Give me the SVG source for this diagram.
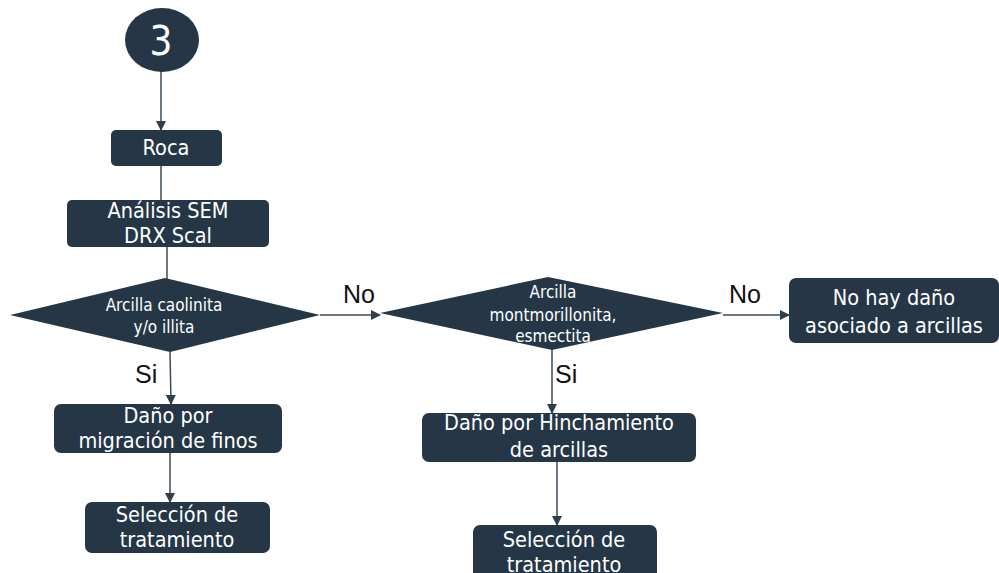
<svg xmlns="http://www.w3.org/2000/svg" width="999" height="573" viewBox="0 0 999 573">
<style>
.n{fill:#253746;}
.t{fill:#ffffff;font-family:"DejaVu Sans Condensed","DejaVu Sans",sans-serif;font-stretch:condensed;text-anchor:middle;}
.b{font-size:21.5px;}
.d{font-size:17px;}
.lbl{fill:#111111;font-family:"Liberation Sans",Arial,sans-serif;font-size:25px;}
.c{stroke:#3b4a58;stroke-width:1.5;fill:none;}
</style>
<defs>
<marker id="ah" markerWidth="10" markerHeight="10" refX="9" refY="5" orient="auto" markerUnits="userSpaceOnUse">
<path d="M0,0 L10,5 L0,10 Z" fill="#2f3e4c"/>
</marker>
</defs>
<rect width="999" height="573" fill="#ffffff"/>
<g id="connectors">
<line class="c" x1="161" y1="71" x2="161" y2="130" marker-end="url(#ah)"/>
<line class="c" x1="161" y1="166" x2="161" y2="200"/>
<line class="c" x1="167" y1="247" x2="167" y2="279"/>
<line class="c" x1="320" y1="315" x2="380" y2="315" marker-end="url(#ah)"/>
<line class="c" x1="170" y1="352" x2="171" y2="404" marker-end="url(#ah)"/>
<line class="c" x1="170" y1="452" x2="170" y2="502" marker-end="url(#ah)"/>
<line class="c" x1="723" y1="315" x2="789" y2="315" marker-end="url(#ah)"/>
<line class="c" x1="552" y1="350" x2="552" y2="413" marker-end="url(#ah)"/>
<line class="c" x1="557" y1="462" x2="557" y2="525" marker-end="url(#ah)"/>
<text class="lbl" x="343" y="303">No</text>
<text class="lbl" x="135" y="383">Si</text>
<text class="lbl" x="729" y="303">No</text>
<text class="lbl" x="555" y="383">Si</text>
</g>
<g id="start">
<ellipse class="n" cx="162" cy="40" rx="37" ry="32"/>
<text class="t" x="161" y="55" style="font-size:40px">3</text>
</g>
<g id="roca">
<rect class="n" x="111" y="130" width="111" height="36" rx="5"/>
<text class="t b" x="166" y="155">Roca</text>
</g>
<g id="analisis">
<rect class="n" x="67" y="200" width="202" height="47" rx="5"/>
<text class="t b" x="168" y="218">Análisis SEM</text>
<text class="t b" x="168" y="243">DRX Scal</text>
</g>
<g id="dec1">
<polygon class="n" points="10,315 165,278 320,315 170,352"/>
<text class="t d" x="164" y="311">Arcilla caolinita</text>
<text class="t d" x="164" y="333">y/o illita</text>
</g>
<g id="dec2">
<polygon class="n" points="380,313 548,277 723,313 552,350"/>
<text class="t d" x="553" y="298">Arcilla</text>
<text class="t d" x="553" y="321">montmorillonita,</text>
<text class="t d" x="553" y="342">esmectita</text>
</g>
<g id="nohay">
<rect class="n" x="789" y="278" width="210" height="65" rx="7"/>
<text class="t b" x="894" y="305">No hay daño</text>
<text class="t b" x="894" y="333">asociado a arcillas</text>
</g>
<g id="dano1">
<rect class="n" x="54" y="404" width="228" height="49" rx="7"/>
<text class="t b" x="168" y="423">Daño por</text>
<text class="t b" x="168" y="448">migración de finos</text>
</g>
<g id="dano2">
<rect class="n" x="422" y="413" width="274" height="49" rx="7"/>
<text class="t b" x="559" y="430">Daño por Hinchamiento</text>
<text class="t b" x="559" y="457">de arcillas</text>
</g>
<g id="sel1">
<rect class="n" x="85" y="502" width="185" height="51" rx="7"/>
<text class="t b" x="177" y="522">Selección de</text>
<text class="t b" x="177" y="547">tratamiento</text>
</g>
<g id="sel2">
<rect class="n" x="473" y="525" width="184" height="60" rx="7"/>
<text class="t b" x="564" y="547">Selección de</text>
<text class="t b" x="564" y="572">tratamiento</text>
</g>
</svg>
